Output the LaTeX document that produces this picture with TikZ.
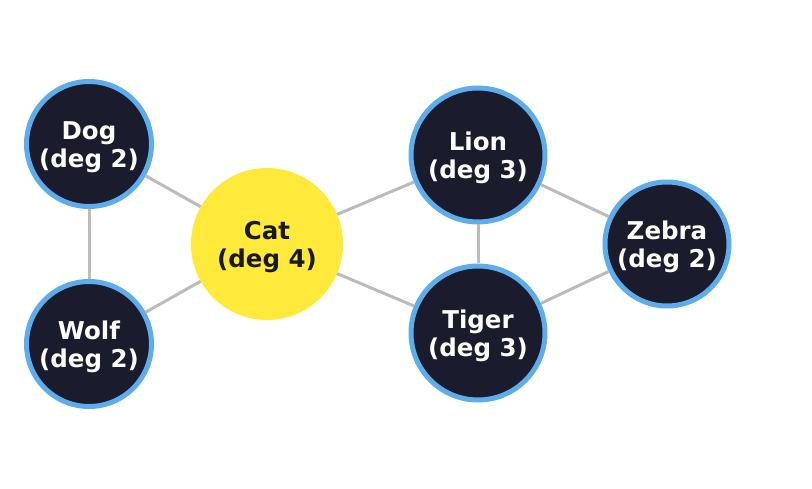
\documentclass[tikz,border=0pt]{standalone}
\usepackage{fontspec}
\setmainfont{DejaVu Sans}
\usepackage{xcolor}
\definecolor{navy}{RGB}{27,27,46}
\definecolor{skyb}{RGB}{93,173,236}
\definecolor{sun}{RGB}{255,234,59}
\definecolor{edgegr}{RGB}{187,187,187}
\tikzset{
  animal/.style={circle, draw=skyb, line width=5pt, fill=navy, text=white, align=center,
    font=\fontsize{24.5}{28}\selectfont\bfseries, inner sep=0pt, text height=52.5pt},
  hub/.style={circle, fill=sun, text=black!90, align=center,
    font=\fontsize{24.5}{28}\selectfont\bfseries, inner sep=0pt, text height=52.5pt,
    minimum size=152pt},
  link/.style={edgegr, line width=3pt}
}
\newcommand{\drawanimal}{\node[animal]}
\newcommand{\drawhub}{\node[hub]}
\newcommand{\linkgray}{\draw[link]}

\begin{document}
\begin{tikzpicture}[x=1pt, y=-1pt]
\useasboundingbox (0,0) rectangle (812,489);
%little animal graph
\drawhub (cat) at (267,244) {Cat\\(deg 4)};
\drawanimal[minimum size=125pt] (dog) at (89,144) {Dog\\(deg 2)};
\drawanimal[minimum size=125pt] (wolf) at (89,344) {Wolf\\(deg 2)};
\drawanimal[minimum size=134pt] (lion) at (478,155) {Lion\\(deg 3)};
\drawanimal[minimum size=134pt] (tiger) at (478,333) {Tiger\\(deg 3)};
\drawanimal[minimum size=124pt] (zebra) at (667,244) {Zebra\\(deg 2)};

\linkgray (dog) to (cat);
\linkgray (wolf) to (cat);
\linkgray (dog) to (wolf);
\linkgray (cat) to (lion);
\linkgray (cat) to (tiger);
\linkgray (lion) to (tiger);
\linkgray (lion) to (zebra);
\linkgray (tiger) to (zebra);
\end{tikzpicture}
\end{document}
